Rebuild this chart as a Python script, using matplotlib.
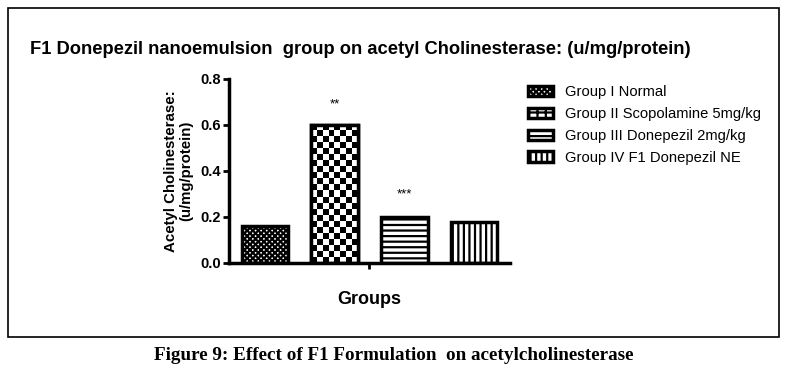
import numpy as np
import matplotlib.pyplot as plt
from matplotlib.patches import Rectangle

#DATA
groups = ['Group I Normal', 'Group II Scopolamine 5mg/kg',
          'Group III Donepezil 2mg/kg', 'Group IV F1 Donepezil NE']
values = [0.16, 0.60, 0.20, 0.18]
stars = ['', '**', '***', '']
star_y = [0, 0.69, 0.30, 0]
hatches = ['xxxxxx', '++', '---', '|||']
yticks = [0.0, 0.2, 0.4, 0.6, 0.8]

plt.rcParams['font.family'] = ['Liberation Sans', 'DejaVu Sans']
plt.rcParams['hatch.linewidth'] = 1.6

fig = plt.figure(figsize=(7.87, 3.77), dpi=100)

#OUTER FRAME
fig.patches.append(Rectangle((8/787, 1-337/377), 771/787, 329/377, transform=fig.transFigure,
                             fill=False, edgecolor='black', linewidth=1.2))

ax = fig.add_axes([229/787, 1-263/377, (510-229)/787, (263-79)/377])
x = range(len(values))
bars = ax.bar(x, values, width=0.67, color='white', edgecolor='black', linewidth=2.5)
for b, h, g in zip(bars, hatches, groups):
    b.set_hatch(h)
    b.set_label(g)

ax.set_xlim(-0.52, 3.52)
ax.set_ylim(0, 0.8)

#CHECKERBOARD TEXTURE FOR GROUP II (clipped to the bar)
b = bars[1]
x0, y0 = b.get_x(), b.get_y()
x1, y1 = x0 + b.get_width(), y0 + b.get_height()
p0 = ax.transData.transform((x0, y0))
p1 = ax.transData.transform((x1, y1))
cell = 6.0
ncol = max(1, int(round((p1[0] - p0[0]) / cell)))
nrow = max(1, int(round((p1[1] - p0[1]) / cell)))
checker = (np.add.outer(np.arange(nrow), np.arange(ncol)) % 2).astype(float)
im = ax.imshow(checker, cmap='gray', extent=(x0, x1, y0, y1), aspect='auto',
               interpolation='nearest', zorder=b.get_zorder() + 0.1)
im.set_clip_path(b)
ax.bar([1], [values[1]], width=0.67, fill=False, edgecolor='black', linewidth=2.5, zorder=3)

for i, s in enumerate(stars):
    if s:
        ax.text(i, star_y[i], s, ha='center', va='center', fontsize=9.5)

ax.set_xlim(-0.52, 3.52)
ax.set_ylim(0, 0.8)
ax.set_yticks(yticks)
ax.set_yticklabels([f'{t:.1f}' for t in yticks], fontweight='bold', fontsize=10.5)
ax.set_xticks([1.5])
ax.set_xticklabels([''])
ax.spines['top'].set_visible(False)
ax.spines['right'].set_visible(False)
ax.spines['left'].set_linewidth(2.5)
ax.spines['bottom'].set_linewidth(2.5)
ax.tick_params(width=2, length=4, pad=2)

ax.set_ylabel('Acetyl Cholinesterase:\n(u/mg/protein)', fontweight='bold', fontsize=10.8,
              labelpad=5, linespacing=1.1)
ax.set_xlabel('Groups', fontweight='bold', fontsize=13, labelpad=14)

fig.text(30/787, 1-50/377, 'F1 Donepezil nanoemulsion  group on acetyl Cholinesterase: (u/mg/protein)',
         fontweight='bold', fontsize=13.2, va='center', ha='left')

ax.legend(loc='upper left', bbox_to_anchor=(515/787, 1-72/377), bbox_transform=fig.transFigure,
          frameon=False, fontsize=10.6, handlelength=1.7, handleheight=0.7,
          labelspacing=0.53, handletextpad=0.8)

fig.text(0.5, 1-356/377, 'Figure 9: Effect of F1 Formulation  on acetylcholinesterase',
         family='Liberation Serif', fontweight='bold', fontsize=13.8, ha='center', va='center')

plt.savefig('out.png', dpi=100)
